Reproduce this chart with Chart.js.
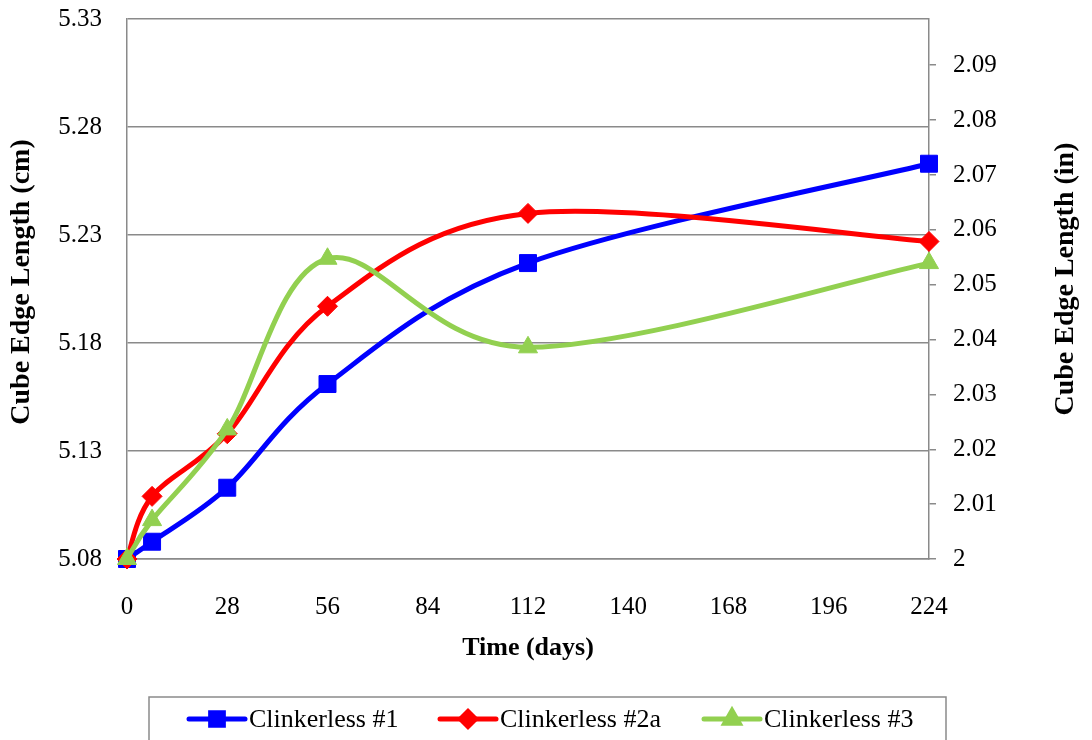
<!DOCTYPE html>
<html>
<head>
<meta charset="utf-8">
<script src="https://cdn.jsdelivr.net/npm/chart.js@4/dist/chart.umd.min.js"></script>
<style>
  body { margin: 0; background: #fff; }
  #wrap { width: 1092px; height: 740px; }
</style>
</head>
<body>
<div id="wrap"><canvas id="cubeChart" width="1092" height="740"></canvas></div>
<script>
// values (cm)
const days = [0, 7, 28, 56, 112, 224];
const clinker1 = [5.08, 5.088, 5.113, 5.161, 5.217, 5.263];
const clinker2a = [5.08, 5.109, 5.138, 5.197, 5.240, 5.227];
const clinker3 = [5.08, 5.098, 5.140, 5.219, 5.178, 5.217];

const seriesNames = ['Clinkerless #1', 'Clinkerless #2a', 'Clinkerless #3'];
const xTicks = [0, 28, 56, 84, 112, 140, 168, 196, 224];
const cmTicks = [5.08, 5.13, 5.18, 5.23, 5.28, 5.33];
const inTicks = [2, 2.01, 2.02, 2.03, 2.04, 2.05, 2.06, 2.07, 2.08, 2.09];

const FONT = '"Liberation Serif", "Times New Roman", serif';
const GRID = '#8a8a8a';

function toPoints(vals) {
    return days.map((d, i) => ({ x: d, y: vals[i] }));
}

function makeSet(label, vals, color, style, radius, order) {
    return {
        label: label,
        data: toPoints(vals),
        borderColor: color,
        backgroundColor: color,
        borderWidth: 5,
        pointStyle: style,
        pointRadius: radius,
        pointBorderWidth: 1,
        pointBackgroundColor: color,
        pointBorderColor: color,
        tension: 0.5,
        clip: false,
        order: order
    };
}

function verticalText(ctx, text, x, y) {
    ctx.save();
    ctx.translate(x, y);
    ctx.rotate(-Math.PI / 2);
    ctx.fillText(text, 0, 0);
    ctx.restore();
}

// y axes: fixed width, and no extra room reserved above/below for the end labels
function fitY(width) {
    return (scale) => {
        scale.width = width;
        scale.paddingTop = 0;
        scale.paddingBottom = 0;
    };
}

// Excel style smoothing: control arms = (next - prev) / 6, no distance weighting
const smoothPlugin = {
    id: 'excelSmooth',
    beforeDatasetsDraw(chart) {
        chart.data.datasets.forEach((ds, i) => {
            const meta = chart.getDatasetMeta(i);
            const pts = meta.data;
            meta.dataset.updateControlPoints(chart.chartArea);
            pts.forEach((p, k) => {
                const prev = pts[k - 1] || p;
                const next = pts[k + 1] || p;
                const dx = (next.x - prev.x) / 6;
                const dy = (next.y - prev.y) / 6;
                p.cp1x = p.x - dx;
                p.cp1y = p.y - dy;
                p.cp2x = p.x + dx;
                p.cp2y = p.y + dy;
            });
            meta.dataset._path = undefined;
        });
    }
};

// both y titles (read bottom-to-top) + legend in a box
const extrasPlugin = {
    id: 'extras',
    afterDraw(chart) {
        const ctx = chart.ctx;
        ctx.save();

        ctx.fillStyle = '#000';
        ctx.font = 'bold 28px ' + FONT;
        ctx.textAlign = 'center';
        ctx.textBaseline = 'middle';
        verticalText(ctx, 'Cube Edge Length (cm)', 22, 282);
        verticalText(ctx, 'Cube Edge Length (in)', 1066, 279);

        ctx.strokeStyle = GRID;
        ctx.lineWidth = 1.5;
        ctx.strokeRect(149, 697, 797, 80);

        const lineStarts = [189, 440, 704];
        const ly = 719;
        ctx.font = '26px ' + FONT;
        ctx.textAlign = 'left';
        chart.data.datasets.forEach((ds, i) => {
            const x0 = lineStarts[i];
            ctx.strokeStyle = ds.borderColor;
            ctx.fillStyle = ds.borderColor;
            ctx.lineWidth = 5;
            ctx.lineCap = 'round';
            ctx.beginPath();
            ctx.moveTo(x0, ly);
            ctx.lineTo(x0 + 56, ly);
            ctx.stroke();
            Chart.helpers.drawPoint(ctx, {
                pointStyle: ds.pointStyle,
                radius: ds.pointRadius * 0.75,
                borderWidth: 1
            }, x0 + 28, ly);
            ctx.fillStyle = '#000';
            ctx.fillText(ds.label, x0 + 60, ly + 1);
        });
        ctx.restore();
    }
};

const ctx = document.getElementById('cubeChart').getContext('2d');
window.cubeChart = new Chart(ctx, {
    type: 'line',
    data: {
        datasets: [
            makeSet(seriesNames[0], clinker1, '#0000ff', 'rect', 12, 3),
            makeSet(seriesNames[1], clinker2a, '#ff0000', 'rectRot', 10, 2),
            makeSet(seriesNames[2], clinker3, '#92d050', 'triangle', 11, 1)
        ]
    },
    options: {
        responsive: false,
        animation: false,
        layout: { padding: { left: 0, right: 0, top: 19, bottom: 71 } },
        plugins: {
            legend: { display: false },
            tooltip: { enabled: false }
        },
        scales: {
            x: {
                type: 'linear',
                min: 0,
                max: 224,
                afterBuildTicks: (scale) => { scale.ticks = xTicks.map(v => ({ value: v })); },
                afterFit: (scale) => { scale.height = 110; },
                grid: { display: false },
                border: { display: true, color: GRID, width: 1.5 },
                ticks: {
                    color: '#000',
                    font: { family: FONT, size: 25 },
                    padding: 25,
                    maxRotation: 0
                },
                title: {
                    display: true,
                    text: 'Time (days)',
                    color: '#000',
                    font: { family: FONT, size: 26, weight: 'bold' },
                    padding: { top: 0, bottom: 5 }
                }
            },
            y: {
                type: 'linear',
                position: 'left',
                min: 5.08,
                max: 5.33,
                afterBuildTicks: (scale) => { scale.ticks = cmTicks.map(v => ({ value: v })); },
                afterFit: fitY(127),
                grid: { color: GRID, lineWidth: 1.5, drawTicks: false },
                border: { display: true, color: GRID, width: 1.5 },
                ticks: {
                    color: '#000',
                    font: { family: FONT, size: 25 },
                    padding: 25,
                    callback: (v) => v.toFixed(2)
                }
            },
            yIn: {
                type: 'linear',
                position: 'right',
                min: 2,
                max: 5.33 / 2.54,
                afterBuildTicks: (scale) => { scale.ticks = inTicks.map(v => ({ value: v })); },
                afterFit: fitY(163),
                grid: { drawOnChartArea: false, drawTicks: true, tickLength: 7, color: GRID, lineWidth: 1.5 },
                border: { display: true, color: GRID, width: 1.5 },
                ticks: {
                    color: '#000',
                    font: { family: FONT, size: 25 },
                    padding: 17,
                    callback: (v) => String(Number(v.toFixed(2)))
                }
            }
        }
    },
    plugins: [smoothPlugin, extrasPlugin]
});
</script>
</body>
</html>
